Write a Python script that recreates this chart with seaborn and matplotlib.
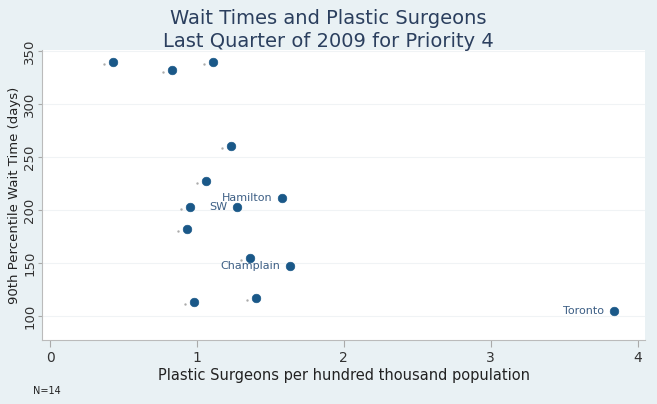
import matplotlib
matplotlib.use("Agg")
import matplotlib.pyplot as plt
import matplotlib.transforms as mtransforms
import seaborn as sns
import pandas as pd

surgeons = [0.43, 0.83, 1.11, 1.23, 1.06, 1.58, 0.95, 1.27, 0.93, 1.36, 1.63, 0.98, 1.40, 3.84]
wait_days = [340, 332, 340, 260, 227, 211, 203, 203, 182, 155, 147, 113, 117, 105]
labels = ["", "", "", "", "", "Hamilton", "", "SW", "", "", "Champlain", "", "", "Toronto"]

xticks = [0, 1, 2, 3, 4]
yticks = [100, 150, 200, 250, 300, 350]

df = pd.DataFrame({"x": surgeons, "y": wait_days, "lab": labels})

sns.set_theme(style="white")
plt.rcParams['font.family'] = ['DejaVu Sans']

bg = "#e9f1f4"
fig = plt.figure(figsize=(6.57, 4.04), dpi=100, facecolor=bg)
ax = fig.add_axes([42/657, 1 - 340/404, (645-42)/657, (340-50)/404])
ax.set_facecolor("white")

sns.scatterplot(data=df, x="x", y="y", ax=ax, color="#1a5888", s=38,
                edgecolor="#1a5888", linewidth=0.5, zorder=3)

# tiny dots (empty marker labels) to the left of unlabeled points
unl = df[df["lab"] == ""]
dot_tr = mtransforms.offset_copy(ax.transData, fig=fig, x=-9, y=-2, units="dots")
ax.scatter(unl["x"], unl["y"], s=0.5, color="#aaaaaa", transform=dot_tr, zorder=2)

for xv, yv, lb in zip(df["x"], df["y"], df["lab"]):
    if lb:
        ax.annotate(lb, (xv, yv), xytext=(-7, 0), textcoords="offset points",
                    ha="right", va="center", fontsize=8, color="#3d5f85")

ax.set_xlim(-0.055, 4.05)
ax.set_ylim(77.5, 351)
ax.set_xticks(xticks)
ax.set_yticks(yticks)
ax.set_xticklabels([str(t) for t in xticks], fontsize=10, color="#333333")
ax.set_yticklabels([str(t) for t in yticks], fontsize=9.5, color="#333333",
                   rotation=90, va="center")
ax.tick_params(axis="x", length=5, width=0.8, color="#aaaaaa",
               direction="out", bottom=True, pad=3)
ax.tick_params(axis="y", length=3, width=0.8, color="#aaaaaa",
               direction="out", left=True, pad=1)
for t in ax.get_yticklabels():
    t.set_verticalalignment("center")
ax.yaxis.grid(True, color="#f0f3f5", linewidth=0.8)
for side in ["top", "right"]:
    ax.spines[side].set_visible(False)
for side in ["bottom", "left"]:
    ax.spines[side].set_color("#bbbbbb")
    ax.spines[side].set_linewidth(0.8)

ax.set_xlabel("Plastic Surgeons per hundred thousand population", fontsize=10.5,
              color="#222222", labelpad=2)
ax.set_ylabel("90th Percentile Wait Time (days)", fontsize=9.5, color="#222222",
              labelpad=2)

fig.text(0.5, 1 - 30/404, "Wait Times and Plastic Surgeons\nLast Quarter of 2009 for Priority 4",
         ha="center", va="center", fontsize=14, color="#2b3f5e", linespacing=1.25)
fig.text(33/657, 1 - 391/404, "N=14", ha="left", va="center", fontsize=7, color="#222222")

fig.savefig("out.png", dpi=100, facecolor=bg)
